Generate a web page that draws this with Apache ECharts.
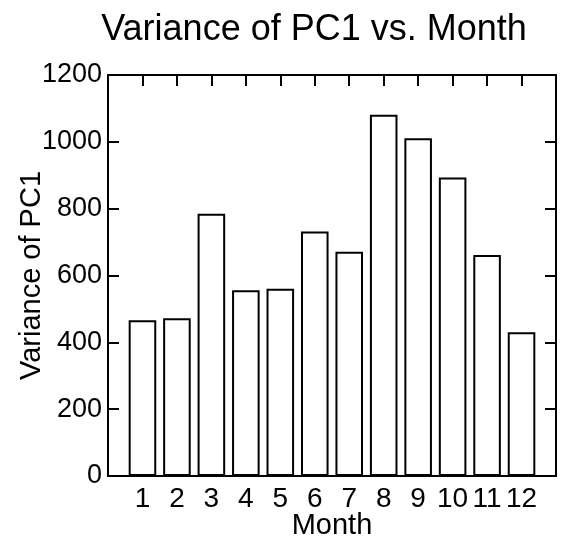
<!DOCTYPE html>
<html>
<head>
<meta charset="utf-8">
<title>Variance of PC1 vs. Month</title>
<script src="https://cdn.jsdelivr.net/npm/echarts@6/dist/echarts.min.js"></script>
<style>
  html, body { margin: 0; padding: 0; background: #fff; }
  #chart { width: 561px; height: 538px; }
</style>
</head>
<body>
<div id="chart"></div>
<script>
// Monthly variance of the first principal component
const months = [1, 2, 3, 4, 5, 6, 7, 8, 9, 10, 11, 12];
const variance = [466, 472, 785, 556, 560, 732, 671, 1081, 1011, 893, 661, 430];
const yTicks = [0, 200, 400, 600, 800, 1000, 1200];

const FONT = '"Liberation Sans", Arial, Helvetica, sans-serif';
const INK = '#000';

const chart = echarts.init(document.getElementById('chart'), null, { renderer: 'canvas' });

const boxAxisLine = { show: true, onZero: false, lineStyle: { color: INK, width: 2 } };
const innerTicks = { show: true, inside: true, length: 11, lineStyle: { color: INK, width: 2 } };

chart.setOption({
  backgroundColor: '#fff',
  animation: false,
  title: {
    text: 'Variance of PC1 vs. Month',
    left: 309,
    top: 7,
    textAlign: 'center',
    textStyle: { fontFamily: FONT, fontSize: 36, fontWeight: 'normal', color: INK }
  },
  grid: { left: 108, right: 5, top: 75, bottom: 62, containLabel: false, outerBoundsMode: 'none' },
  xAxis: [
    {
      type: 'value',
      position: 'bottom',
      min: 0,
      max: months.length + 1,
      interval: 1,
      name: 'Month',
      nameLocation: 'middle',
      nameGap: 35,
      nameMoveOverlap: false,
      nameTextStyle: { fontFamily: FONT, fontSize: 29, color: INK },
      axisLine: boxAxisLine,
      axisTick: innerTicks,
      splitLine: { show: false },
      axisLabel: {
        fontFamily: FONT, fontSize: 28, color: INK, margin: 9,
        formatter: v => (months.indexOf(v) >= 0 ? String(v) : '')
      }
    },
    {
      type: 'value',
      position: 'top',
      min: 0,
      max: months.length + 1,
      interval: 1,
      axisLine: boxAxisLine,
      axisTick: innerTicks,
      splitLine: { show: false },
      axisLabel: { show: false }
    }
  ],
  yAxis: [
    {
      type: 'value',
      position: 'left',
      min: yTicks[0],
      max: yTicks[yTicks.length - 1],
      interval: yTicks[1] - yTicks[0],
      name: 'Variance of PC1',
      nameLocation: 'middle',
      nameGap: 62,
      nameMoveOverlap: false,
      nameTextStyle: { fontFamily: FONT, fontSize: 29, color: INK },
      axisLine: boxAxisLine,
      axisTick: innerTicks,
      splitLine: { show: false },
      axisLabel: {
        fontFamily: FONT, fontSize: 27, color: INK, margin: 6,
        formatter: v => String(v)
      }
    },
    {
      type: 'value',
      position: 'right',
      min: yTicks[0],
      max: yTicks[yTicks.length - 1],
      interval: yTicks[1] - yTicks[0],
      axisLine: boxAxisLine,
      axisTick: innerTicks,
      splitLine: { show: false },
      axisLabel: { show: false }
    }
  ],
  series: [
    {
      type: 'bar',
      xAxisIndex: 0,
      yAxisIndex: 0,
      barWidth: '80%',
      data: months.map((m, i) => [m, variance[i]]),
      itemStyle: { color: '#fff', borderColor: INK, borderWidth: 2 },
      emphasis: { disabled: true }
    }
  ]
});
</script>
</body>
</html>
